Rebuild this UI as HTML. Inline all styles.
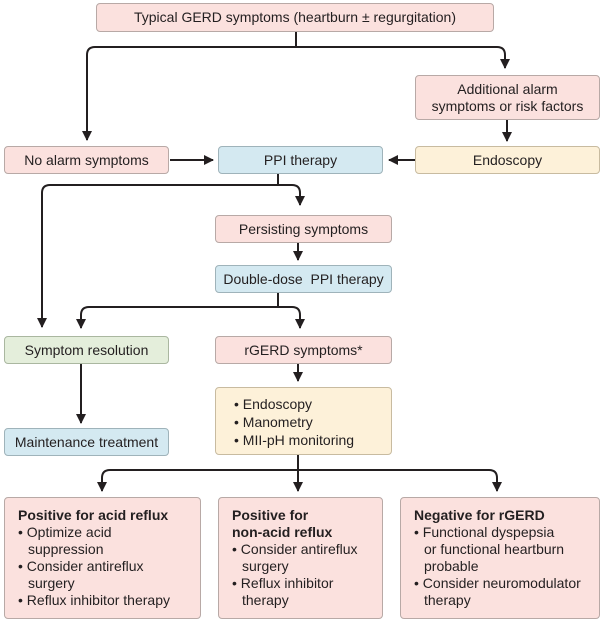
<!DOCTYPE html><html><head><style>
body{margin:0;width:604px;height:630px;background:#fff;position:relative;font-family:"Liberation Sans",sans-serif;color:#231f20;overflow:hidden}
.b{position:absolute;box-sizing:border-box;border:1px solid #b8a9a6;border-radius:4px;display:flex;align-items:center;justify-content:center;text-align:center;font-size:14px;line-height:17px;white-space:nowrap}
.p{background:#fbe1de}.c{background:#d4e9f1;border-color:#9fb3ba}.y{background:#fdf1d9;border-color:#c8bba0}.g{background:#e4eedb;border-color:#aab7a0}
.l{display:block;text-align:left;padding:9px 4px 0 13px;font-size:14px;line-height:17px}
.l b{display:block}
.l div{padding-left:10px;text-indent:-10px}
svg{position:absolute;left:0;top:0}
</style></head><body>
<svg width="604" height="630" fill="none" stroke="#231f20" stroke-width="2">
<defs><marker id="a" viewBox="0 0 10 10" refX="9" refY="5" markerWidth="5" markerHeight="5" orient="auto"><path d="M0,0L10,5L0,10z" fill="#231f20" stroke="none"/></marker></defs>
<path d="M296,32V47"/>
<path d="M296,47H95Q87,47 87,55V140" marker-end="url(#a)"/>
<path d="M296,47H497Q505,47 505,55V68" marker-end="url(#a)"/>
<path d="M507,120V141" marker-end="url(#a)"/>
<path d="M170,160H213" marker-end="url(#a)"/>
<path d="M415,160H389" marker-end="url(#a)"/>
<path d="M278,174V185"/>
<path d="M278,185H50Q42,185 42,193V327" marker-end="url(#a)"/>
<path d="M278,185H292Q300,185 300,193V205" marker-end="url(#a)"/>
<path d="M298,243V260" marker-end="url(#a)"/>
<path d="M278,293V307"/>
<path d="M278,307H89Q81,307 81,315V328" marker-end="url(#a)"/>
<path d="M278,307H292Q300,307 300,315V328" marker-end="url(#a)"/>
<path d="M81,363V423" marker-end="url(#a)"/>
<path d="M298,363V381" marker-end="url(#a)"/>
<path d="M298,455V470"/>
<path d="M298,470H110Q102,470 102,478V491" marker-end="url(#a)"/>
<path d="M298,470H489Q497,470 497,478V491" marker-end="url(#a)"/>
<path d="M298,470V491" marker-end="url(#a)"/>
</svg>
<div class="b p" style="left:96px;top:3px;width:398px;height:29px">Typical GERD symptoms (heartburn ± regurgitation)</div>
<div class="b p" style="left:415px;top:75px;width:185px;height:45px">Additional alarm<br>symptoms or risk factors</div>
<div class="b p" style="left:4px;top:146px;width:165px;height:28px">No alarm symptoms</div>
<div class="b c" style="left:218px;top:146px;width:165px;height:28px">PPI therapy</div>
<div class="b y" style="left:415px;top:146px;width:185px;height:28px">Endoscopy</div>
<div class="b p" style="left:215px;top:215px;width:177px;height:28px">Persisting symptoms</div>
<div class="b c" style="left:215px;top:265px;width:177px;height:28px">Double-dose&nbsp; PPI therapy</div>
<div class="b g" style="left:4px;top:336px;width:165px;height:28px">Symptom resolution</div>
<div class="b p" style="left:215px;top:336px;width:177px;height:28px">rGERD symptoms*</div>
<div class="b c" style="left:4px;top:428px;width:165px;height:28px">Maintenance treatment</div>
<div class="b y" style="left:215px;top:387px;width:177px;height:68px;display:block;text-align:left;padding:7px 0 0 18px;line-height:18px"><div>• Endoscopy</div><div>• Manometry</div><div>• MII-pH monitoring</div></div>
<div class="b p l" style="left:4px;top:497px;width:197px;height:122px"><b>Positive for acid reflux</b><div>• Optimize acid<br>suppression</div><div>• Consider antireflux<br>surgery</div><div>• Reflux inhibitor therapy</div></div>
<div class="b p l" style="left:218px;top:497px;width:165px;height:122px"><b>Positive for<br>non-acid reflux</b><div>• Consider antireflux<br>surgery</div><div>• Reflux inhibitor<br>therapy</div></div>
<div class="b p l" style="left:400px;top:497px;width:200px;height:122px"><b>Negative for rGERD</b><div>• Functional dyspepsia<br>or functional heartburn<br>probable</div><div>• Consider neuromodulator<br>therapy</div></div>
</body></html>
